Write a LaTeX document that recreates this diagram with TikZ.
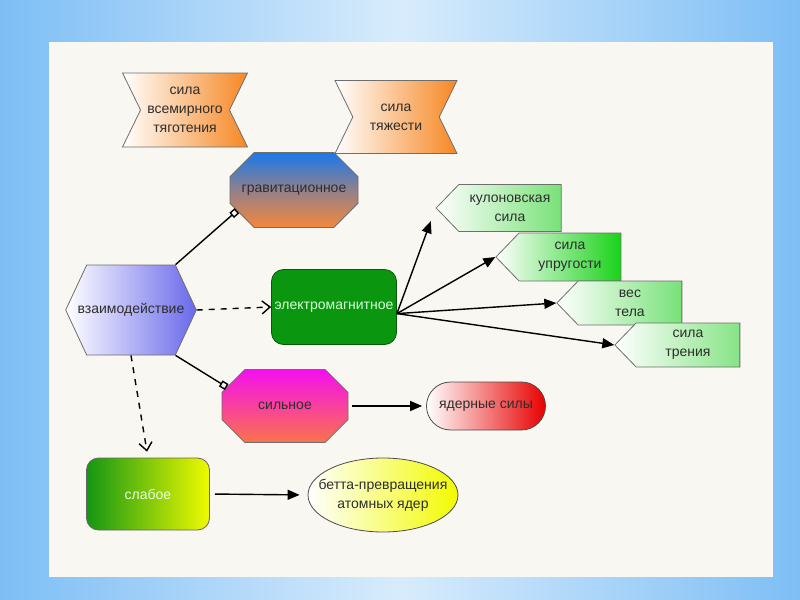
\documentclass[tikz,border=0pt]{standalone}
\usepackage{fontspec}
\setmainfont{Liberation Sans}
\usetikzlibrary{shapes.geometric, shapes.symbols, shapes.misc, arrows.meta, positioning, calc}
\definecolor{skycolor}{RGB}{125, 190, 245}
\definecolor{panelcolor}{RGB}{249, 247, 241}
\definecolor{orangecolor}{RGB}{246, 135, 35}
\definecolor{bluecolor}{RGB}{25, 120, 235}
\definecolor{peachcolor}{RGB}{245, 135, 60}
\definecolor{violetcolor}{RGB}{105, 105, 235}
\definecolor{emcolor}{RGB}{10, 150, 15}
\definecolor{magentacolor}{RGB}{245, 15, 240}
\definecolor{salmoncolor}{RGB}{250, 115, 75}
\definecolor{redcolor}{RGB}{232, 0, 0}
\definecolor{limecolor}{RGB}{240, 250, 0}
\definecolor{leafcolor}{RGB}{20, 150, 20}
\definecolor{lightgreen}{RGB}{120, 225, 120}
\definecolor{brightgreen}{RGB}{25, 210, 25}
\definecolor{textgray}{RGB}{45, 45, 45}
\definecolor{edgegray}{RGB}{110, 110, 110}

\begin{document}
\begin{tikzpicture}[
    x=0.5pt, y=-0.5pt,
    >={Triangle[length=6pt, width=5pt]},
    every node/.style={font=\fontsize{7}{9.5}\selectfont, text=textgray, align=center, inner sep=1pt},
    banner/.style={signal, signal to=nowhere, signal from=west and east, signal pointer angle=128,
        draw=edgegray, left color=white, right color=orangecolor},
    octa/.style={chamfered rectangle, chamfered rectangle xsep=8.5pt, chamfered rectangle ysep=8.5pt,
        draw=edgegray},
    hexa/.style={signal, signal to=west and east, signal pointer angle=130, draw=edgegray,
        left color=white, right color=violetcolor},
    roundbox/.style={rectangle, rounded corners=6pt, draw=black!70},
    flag/.style={signal, signal to=west, signal pointer angle=92, draw=edgegray,
        minimum width=62.5pt, left color=white},
    arrow/.style={->, line width=0.7pt},
    dasharrow/.style={-{Straight Barb[length=4pt, width=6.5pt]}, line width=0.7pt, dashed},
    link/.style={-{Square[open, length=3.5pt, width=3.5pt]}, line width=0.7pt}
]
\useasboundingbox (0,0) rectangle (800,600);

% Background
\shade[left color=skycolor, right color=skycolor, middle color=skycolor!30!white] (0,0) rectangle (800,600);
\fill[panelcolor] (49,42) rectangle (773,577);

% Forces on top
\node[banner, minimum width=62.5pt, minimum height=37pt] (univ) at (185,110) {сила\\всемирного\\тяготения};
\node[banner, minimum width=61pt, minimum height=36.5pt] (weight) at (396,117) {сила\\тяжести};

% Interaction types
\node[octa, minimum width=64pt, minimum height=37.5pt, top color=bluecolor, bottom color=peachcolor,
      middle color=bluecolor!45!peachcolor] (grav) at (294,190) {гравитационное};
\node[hexa, inner xsep=-4.5pt, minimum height=45pt] (inter) at (131,310) {взаимодействие};
\node[roundbox, fill=emcolor, draw=emcolor!60!black, text=green!15!white,
      minimum width=62.5pt, minimum height=37.5pt] (em) at (334,307) {электромагнитное};
\node[octa, minimum width=63pt, minimum height=36.5pt, top color=magentacolor, bottom color=salmoncolor]
      (strong) at (285,406) {сильное};
\node[roundbox, left color=leafcolor, right color=limecolor, draw=black!60, text=green!10!white,
      minimum width=61.5pt, minimum height=36pt] (weak) at (148,494) {слабое};

% Results
\node[rounded rectangle, draw=black!70, left color=white, right color=redcolor,
      minimum width=61.5pt, minimum height=24pt] (nuclear) at (486,406) {ядерные силы};
\node[ellipse, draw=black!70, left color=white, right color=limecolor!90!yellow, inner xsep=-10pt,
      inner ysep=0pt, minimum width=75pt, minimum height=37pt] (beta) at (383,495) {бетта-превращения\\атомных ядер};

% Electromagnetic forces
\node[flag, right color=lightgreen, minimum height=23.5pt] (coulomb) at (510,208) {кулоновская\\сила};
\node[flag, right color=brightgreen, minimum height=24pt] (elastic) at (570,257) {сила\\упругости};
\node[flag, right color=lightgreen, minimum height=22pt] (bodyw) at (630,303) {вес\\тела};
\node[flag, right color=lightgreen!90!white, minimum height=22pt] (friction) at (688,345) {сила\\трения};

% Connectors
\draw[link] (inter.north east) -- (grav.-160);
\draw[link] (inter.south east) -- (strong.162);
\draw[dasharrow] (inter.east) -- (em.west);
\draw[dasharrow, shorten >=3pt] (inter.south) -- (weak.north);
\draw[arrow, shorten <=2pt, shorten >=2pt] (strong.east) -- (nuclear.west);
\draw[arrow, shorten <=2.5pt, shorten >=4pt] (weak.east) -- (beta.west);

\draw[arrow, shorten >=7pt] (em.-6) -- (coulomb.west);
\draw[arrow] (em.-6) -- (elastic.west);
\draw[arrow] (em.-6) -- (bodyw.west);
\draw[arrow] (em.-6) -- (friction.west);

\end{tikzpicture}
\end{document}
